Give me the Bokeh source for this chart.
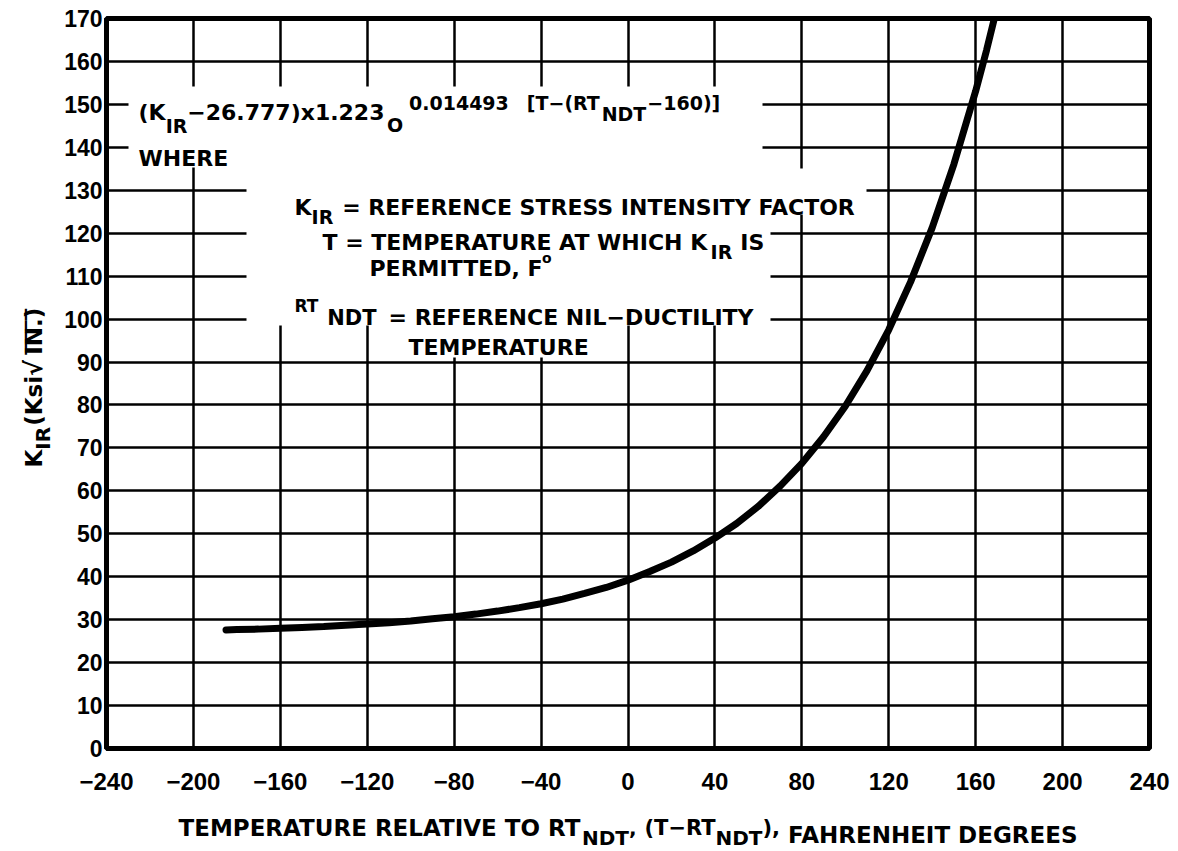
import math

from bokeh.plotting import figure
from bokeh.layouts import row, column
from bokeh.models import Range1d, FixedTicker, Label
from bokeh.embed import file_html
from bokeh.resources import INLINE

# Reference stress intensity factor K_IR (ksi*sqrt(in.)) against temperature
# relative to RT_NDT (deg F)
temp_rel = [-185, -180, -170, -160, -150, -140, -130, -120, -110, -100,
            -90, -80, -70, -60, -50, -40, -30, -20, -10, 0,
            10, 20, 30, 40, 50, 60, 70, 80, 90, 100,
            110, 120, 130, 140, 150, 160, 165, 168.6]
k_ir = [27.6, 27.7, 27.8, 28.0, 28.2, 28.4, 28.7, 29.0, 29.3, 29.7,
        30.2, 30.7, 31.3, 32.0, 32.8, 33.7, 34.8, 36.1, 37.5, 39.2,
        41.2, 43.4, 46.0, 49.0, 52.4, 56.4, 61.1, 66.4, 72.6, 79.7,
        88.0, 97.5, 108.6, 121.3, 136.1, 153.1, 162.6, 170.0]

x_ticks = [-240, -200, -160, -120, -80, -40, 0, 40, 80, 120, 160, 200, 240]
y_ticks = [0, 10, 20, 30, 40, 50, 60, 70, 80, 90, 100, 110, 120, 130, 140, 150, 160, 170]
x_tick_labels = {t: (f"\u2212{abs(t)}" if t < 0 else str(t)) for t in x_ticks}

# page geometry (pixels): a strip for the vertical title on the left,
# the chart, and a strip for the horizontal title under the chart
W, H = 1178, 851
YT_W = 54          # width of the left title strip
XT_H = 45          # height of the bottom title strip
FL, FR, FT, FB = 106, 29, 18, 103   # frame edges measured on the whole page
XR = (-240, 240)
YR = (0, 170)
FW = W - FL - FR
FH = H - FT - FB


def sx(px):
    return XR[0] + (px - FL) * (XR[1] - XR[0]) / FW


def sy(py):
    return YR[1] - (py - FT) * (YR[1] - YR[0]) / FH


def ident(v):
    return v


# advance widths (em) of DejaVu Sans Bold, used to chain text runs
DJB = {' ': .348, '(': .457, ')': .457, ',': .380, '.': .380, '-': .415,
       '=': .838, '[': .457, ']': .457, '\u2212': .838, '\u221a': .838,
       '\u203e': .500,
       'A': .774, 'C': .734, 'D': .831, 'E': .683, 'F': .632, 'G': .821,
       'H': .837, 'I': .372, 'K': .776, 'L': .637, 'M': .995, 'N': .837,
       'O': .850, 'P': .733, 'R': .770, 'S': .720, 'T': .682, 'U': .812,
       'V': .774, 'W': 1.10, 'Y': .724, 'x': .707, 'i': .343, 'k': .664,
       's': .595, 'o': .687}
for d in "0123456789":
    DJB[d] = .696


def text_width(s, size):
    return sum(DJB.get(c, .7) for c in s) * size


# ---------------------------------------------------------------- chart
chart = figure(width=W - YT_W, height=H - XT_H,
               x_range=Range1d(*XR), y_range=Range1d(*YR),
               output_backend="svg", toolbar_location=None,
               min_border_left=FL - YT_W, min_border_right=FR,
               min_border_top=FT, min_border_bottom=FB - XT_H)
chart.background_fill_color = "white"
chart.border_fill_color = "white"
chart.outline_line_color = "black"
chart.outline_line_width = 5

for ax in (chart.xaxis, chart.yaxis):
    ax.axis_line_color = "black"
    ax.axis_line_width = 5
    ax.major_tick_in = 0
    ax.major_tick_out = 0
    ax.minor_tick_in = 0
    ax.minor_tick_out = 0
    ax.major_label_text_font = "Liberation Sans"
    ax.major_label_text_font_style = "bold"
    ax.major_label_text_color = "black"

chart.xaxis.ticker = FixedTicker(ticks=x_ticks)
chart.xaxis.major_label_overrides = x_tick_labels
chart.xaxis.major_label_text_font_size = "24px"
chart.xaxis.major_label_standoff = 24
chart.yaxis.ticker = FixedTicker(ticks=y_ticks)
chart.yaxis.major_label_text_font_size = "23px"
chart.yaxis.major_label_standoff = 4

chart.xgrid.ticker = FixedTicker(ticks=x_ticks)
chart.ygrid.ticker = FixedTicker(ticks=y_ticks)
for g in (chart.xgrid, chart.ygrid):
    g.grid_line_color = "black"
    g.grid_line_width = 2.5
    g.grid_line_alpha = 1.0

# white panels behind the equation and the definitions
panels = [(128, 762, 86, 167), (246, 770, 164, 325),
          (400, 600, 324, 357), (769, 866, 168, 214)]
chart.quad(left=[sx(a) for a, b, t, bt in panels],
           right=[sx(b) for a, b, t, bt in panels],
           top=[sy(t) for a, b, t, bt in panels],
           bottom=[sy(bt) for a, b, t, bt in panels],
           fill_color="white", line_color=None)

# the K_IR curve
chart.line(temp_rel, k_ir, line_color="black", line_width=7, line_cap="round")


def run(fig, fx, fy, start, base, pieces, vertical=False, font="DejaVu Sans"):
    """Chain text pieces (text, size, baseline shift, gap) along a line."""
    pos = start
    spans = []
    for text, size, shift, gap in pieces:
        w = text_width(text, size)
        if vertical:
            pos -= gap
            lab = Label(x=fx(base + shift), y=fy(pos), text=text,
                        angle=math.pi / 2, angle_units="rad")
            spans.append((pos, pos - w))
            pos -= w
        else:
            pos += gap
            lab = Label(x=fx(pos), y=fy(base + shift), text=text)
            spans.append((pos, pos + w))
            pos += w
        lab.text_font = font
        lab.text_font_style = "bold"
        lab.text_font_size = f"{size}px"
        lab.text_color = "black"
        lab.text_align = "left"
        lab.text_baseline = "alphabetic"
        fig.add_layout(lab)
    return spans


# equation
run(chart, sx, sy, 138, 112,
    [("(K", 22, 0, 0), ("IR", 19, 13, 0),
     ("\u221226.777)x1.223", 22, 0, 0), ("O", 19, 12, 1),
     ("0.014493", 19, -10, 6), ("[T\u2212(RT", 19, -10, 18),
     ("NDT", 19, 1, 1), ("\u2212160)]", 19, -10, 1)])
run(chart, sx, sy, 138, 158, [("WHERE", 22, 0, 0)])

# definitions
run(chart, sx, sy, 294, 207,
    [("K", 22, 0, 0), ("IR", 19, 9, 0),
     ("= REFERENCE STRESS INTENSITY FACTOR", 22, 0, 9)])
run(chart, sx, sy, 322, 242,
    [("T = TEMPERATURE AT WHICH K", 22, 0, 0), ("IR", 19, 9, 0),
     ("IS", 22, 0, 8)])
run(chart, sx, sy, 369, 268, [("PERMITTED, F", 22, 0, 0), ("o", 14, -11, 1)])
run(chart, sx, sy, 294, 317,
    [("RT", 17, -12, 0), ("NDT", 21, 0, 8),
     ("= REFERENCE NIL\u2212DUCTILITY", 22, 0, 12)])
run(chart, sx, sy, 408, 347, [("TEMPERATURE", 22, 0, 0)])


def strip(width, height, xr, yr):
    f = figure(width=width, height=height, x_range=Range1d(*xr),
               y_range=Range1d(*yr), output_backend="svg",
               toolbar_location=None, x_axis_type=None, y_axis_type=None,
               min_border=0, min_border_left=0, min_border_right=0,
               min_border_top=0, min_border_bottom=0)
    f.outline_line_color = None
    f.background_fill_color = "white"
    f.border_fill_color = "white"
    return f


# horizontal title strip; its frame lines up with the chart frame, so it is
# addressed in page pixels across the frame width
xtitle_fig = strip(W - YT_W, XT_H, (FL, W - FR), (H, H - XT_H))
run(xtitle_fig, ident, ident, 178, 827,
    [("TEMPERATURE RELATIVE TO RT", 23, 0, 0), ("NDT", 20, 10, -3),
     (",", 20, 0, 0), ("(T\u2212RT", 21, 0, 8), ("NDT", 20, 10, -1),
     ("),", 21, 0, 0), ("FAHRENHEIT DEGREES", 23, 7, 8)])

# vertical title strip, reading upwards
ytitle_fig = strip(YT_W, H, (0, YT_W), (H, 0))
ytitle = run(ytitle_fig, ident, ident, 467, 33,
             [("K", 23, 0, 0), ("IR", 20, 9, 0), ("(Ksi", 23, 0, 1),
              ("\u221a", 24, 0, 0), ("IN.)", 23, 0, 1)], vertical=True)
run(ytitle_fig, ident, ident, ytitle[4][0], 33,
    [("\u203e\u203e\u203e\u203e", 23, 0, 0)], vertical=True)

page = row(ytitle_fig, column(chart, xtitle_fig, spacing=0), spacing=0)

open("out.html", "w").write(file_html(page, INLINE))
